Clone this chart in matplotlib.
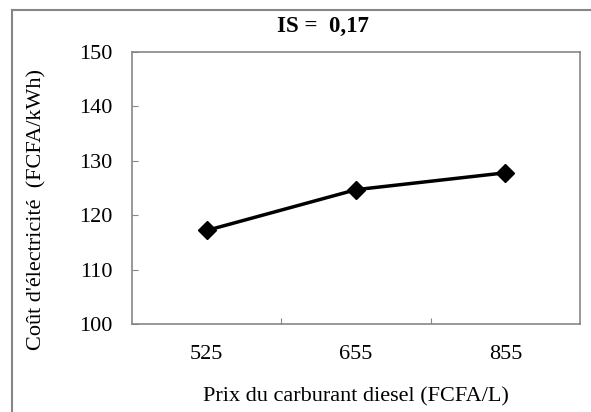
import matplotlib.pyplot as plt
from matplotlib.lines import Line2D

# Données
prix_diesel = ["525", "655", "855"]
cout_elec = [117.2, 124.7, 127.8]
y_ticks = [100, 110, 120, 130, 140, 150]

plt.rcParams['font.family'] = ['Liberation Serif', 'DejaVu Serif']

fig = plt.figure(figsize=(5.91, 4.12), dpi=100)
ax = fig.add_axes([0.2234, 0.2136, 0.758, 0.660])

x = range(len(prix_diesel))
ax.plot(x, cout_elec, color='black', linewidth=2.5, marker='D', markersize=9)

ax.set_xlim(-0.5, len(prix_diesel) - 0.5)
ax.set_ylim(100, 150)
ax.set_yticks(y_ticks)
ax.set_xticks(list(x))
ax.set_xticklabels(prix_diesel)
ax.set_xticks([0.5, 1.5], minor=True)

ax.tick_params(axis='y', direction='in', length=4, width=0.8, color='#868686',
               labelsize=16, pad=14)
ax.tick_params(axis='x', which='major', length=0, labelsize=16, pad=15)
ax.tick_params(axis='x', which='minor', direction='in', length=4, width=0.8,
               color='#868686')

for s in ax.spines.values():
    s.set_color('#868686')
    s.set_linewidth(1.2)

ax.set_xlabel("Prix du carburant diesel (FCFA/L)", fontsize=16, labelpad=16.5)
ax.set_ylabel("Coût d'électricité  (FCFA/kWh)", fontsize=16)
ax.yaxis.set_label_coords(-0.192, 0.42)

fig.text(323 / 591, 1 - 26 / 412, "IS =  0,17", fontsize=16.5, fontweight='bold',
         ha='center', va='center')

# cadre autour de la figure
bx, by = 12 / 591, 1 - 10 / 412
fig.add_artist(Line2D([bx, bx], [0, by], transform=fig.transFigure,
                      color='#868686', linewidth=1.5))
fig.add_artist(Line2D([bx, 1], [by, by], transform=fig.transFigure,
                      color='#868686', linewidth=1.5))

plt.savefig('out.png', dpi=100)
